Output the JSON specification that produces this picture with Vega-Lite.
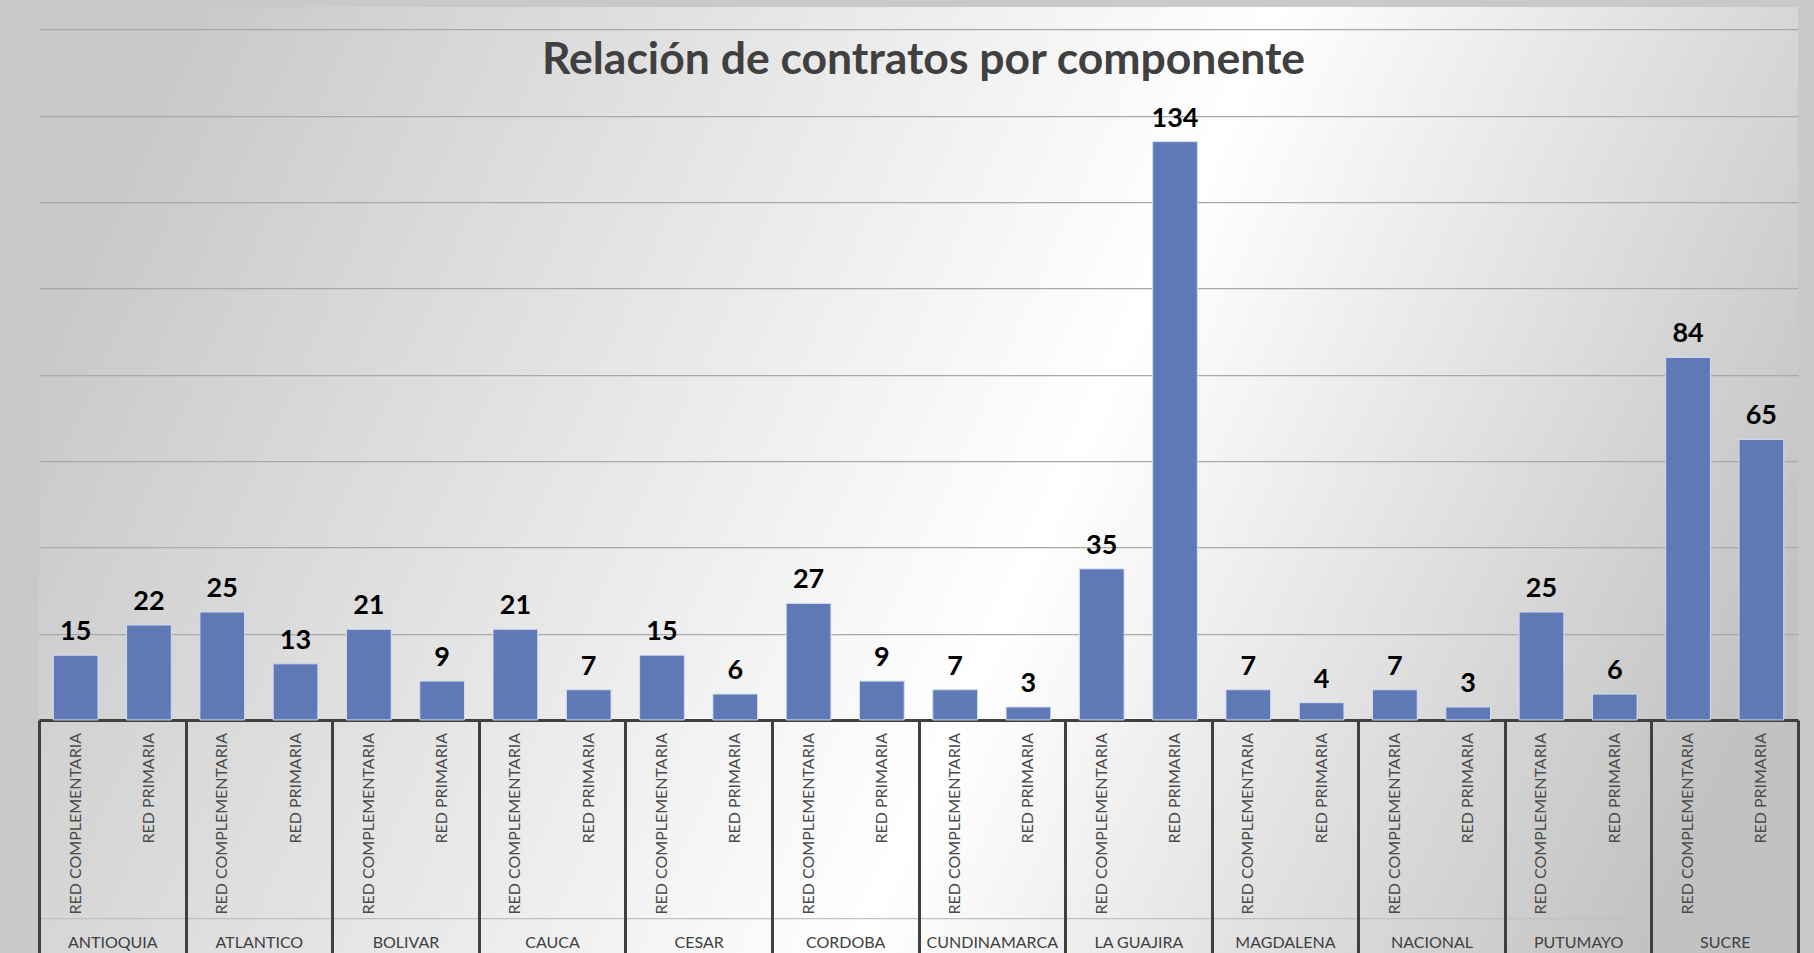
{
  "$schema": "https://vega.github.io/schema/vega-lite/v6.json",
  "width": 1759,
  "height": 946,
  "autosize": "none",
  "padding": {"left": 39, "top": 7, "right": 16, "bottom": 0},
  "background": "#c9c9c9",
  "view": {
    "fill": {
      "gradient": "linear",
      "x1": 0, "y1": 0.38, "x2": 1, "y2": 0.62,
      "stops": [
        {"offset": 0, "color": "#c9c9c9"},
        {"offset": 0.58, "color": "#ffffff"},
        {"offset": 1, "color": "#c2c2c2"}
      ]
    },
    "stroke": null
  },
  "title": {
    "text": "Relación de contratos por componente",
    "font": "Lato",
    "fontSize": 44.5,
    "fontWeight": "bold",
    "color": "#404040",
    "anchor": "middle",
    "baseline": "alphabetic",
    "offset": -111,
    "dx": 5
  },
  "data": {
    "values": [
      {"state": "ANTIOQUIA", "comp": "RED COMPLEMENTARIA", "n": 15},
      {"state": "ANTIOQUIA", "comp": "RED PRIMARIA", "n": 22},
      {"state": "ATLANTICO", "comp": "RED COMPLEMENTARIA", "n": 25},
      {"state": "ATLANTICO", "comp": "RED PRIMARIA", "n": 13},
      {"state": "BOLIVAR", "comp": "RED COMPLEMENTARIA", "n": 21},
      {"state": "BOLIVAR", "comp": "RED PRIMARIA", "n": 9},
      {"state": "CAUCA", "comp": "RED COMPLEMENTARIA", "n": 21},
      {"state": "CAUCA", "comp": "RED PRIMARIA", "n": 7},
      {"state": "CESAR", "comp": "RED COMPLEMENTARIA", "n": 15},
      {"state": "CESAR", "comp": "RED PRIMARIA", "n": 6},
      {"state": "CORDOBA", "comp": "RED COMPLEMENTARIA", "n": 27},
      {"state": "CORDOBA", "comp": "RED PRIMARIA", "n": 9},
      {"state": "CUNDINAMARCA", "comp": "RED COMPLEMENTARIA", "n": 7},
      {"state": "CUNDINAMARCA", "comp": "RED PRIMARIA", "n": 3},
      {"state": "LA GUAJIRA", "comp": "RED COMPLEMENTARIA", "n": 35},
      {"state": "LA GUAJIRA", "comp": "RED PRIMARIA", "n": 134},
      {"state": "MAGDALENA", "comp": "RED COMPLEMENTARIA", "n": 7},
      {"state": "MAGDALENA", "comp": "RED PRIMARIA", "n": 4},
      {"state": "NACIONAL", "comp": "RED COMPLEMENTARIA", "n": 7},
      {"state": "NACIONAL", "comp": "RED PRIMARIA", "n": 3},
      {"state": "PUTUMAYO", "comp": "RED COMPLEMENTARIA", "n": 25},
      {"state": "PUTUMAYO", "comp": "RED PRIMARIA", "n": 6},
      {"state": "SUCRE", "comp": "RED COMPLEMENTARIA", "n": 84},
      {"state": "SUCRE", "comp": "RED PRIMARIA", "n": 65}
    ]
  },
  "encoding": {
    "x": {
      "field": "state",
      "type": "nominal",
      "scale": {"paddingInner": 0, "paddingOuter": 0},
      "axis": {
        "orient": "bottom",
        "offset": -233,
        "title": null,
        "grid": false,
        "domain": true,
        "domainColor": "#404040",
        "domainWidth": 3,
        "ticks": true,
        "tickBand": "extent",
        "tickSize": 233,
        "tickWidth": 3,
        "tickColor": "#404040",
        "labelAngle": 0,
        "labelPadding": -6,
        "labelBaseline": "alphabetic",
        "labelFont": "Lato",
        "labelFontSize": 16,
        "labelColor": "#404040",
        "labelOverlap": false
      }
    },
    "xOffset": {
      "field": "comp",
      "type": "nominal",
      "scale": {"paddingInner": 0.39, "paddingOuter": 0.195}
    }
  },
  "layer": [
    {
      "mark": {"type": "bar", "fill": "#5f79b7", "stroke": "#d3dbef", "strokeWidth": 1},
      "encoding": {
        "y": {
          "field": "n",
          "type": "quantitative",
          "scale": {"domain": [-54, 165.2], "nice": false},
          "axis": {
            "title": null,
            "domain": false,
            "ticks": false,
            "labels": false,
            "grid": true,
            "values": [-45.9, 20, 40, 60, 80, 100, 120, 140, 160],
            "gridColor": {"condition": {"test": "datum.value < 0", "value": "#c0c0c0"}, "value": "#a9a9a9"},
            "gridWidth": 1.25
          }
        }
      }
    },
    {
      "mark": {
        "type": "text",
        "font": "Lato",
        "fontSize": 27,
        "fontWeight": "bold",
        "color": "#000000",
        "baseline": "alphabetic",
        "dy": -15
      },
      "encoding": {
        "y": {"field": "n", "type": "quantitative", "scale": {"domain": [-54, 165.2], "nice": false}},
        "text": {"field": "n", "type": "quantitative"}
      }
    },
    {
      "mark": {
        "type": "text",
        "font": "Lato",
        "fontSize": 16,
        "color": "#4a4a4a",
        "angle": 270,
        "align": "right",
        "baseline": "middle",
        "dx": -13
      },
      "encoding": {
        "y": {"datum": 0, "type": "quantitative", "scale": {"domain": [-54, 165.2], "nice": false}},
        "text": {"field": "comp", "type": "nominal"}
      }
    }
  ]
}
